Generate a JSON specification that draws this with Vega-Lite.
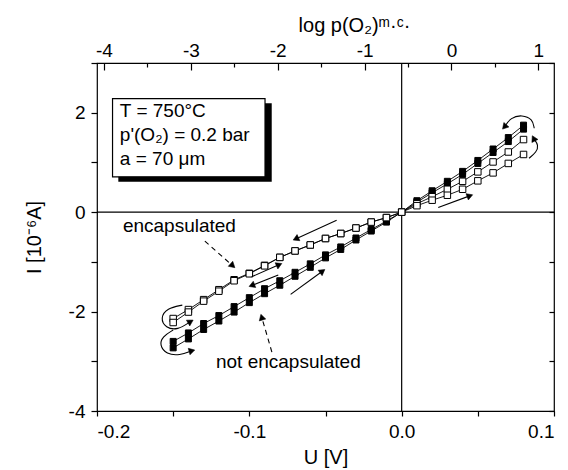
{
  "$schema": "https://vega.github.io/schema/vega-lite/v6.json",
  "width": 457,
  "height": 348,
  "autosize": {"type": "none"},
  "padding": {"left": 97, "top": 63, "right": 14, "bottom": 59},
  "config": {
    "view": {"stroke": "black", "strokeWidth": 1.2},
    "font": "Liberation Sans",
    "axis": {
      "labelFont": "Liberation Sans", "titleFont": "Liberation Sans",
      "labelFontSize": 19, "titleFontSize": 20, "titleFontWeight": "normal",
      "labelColor": "black", "titleColor": "black", "tickColor": "black",
      "tickWidth": 1.2, "domain": false, "grid": false
    }
  },
  "datasets": {
    "iv": [
      {"series": "NF1", "sample": "not encapsulated", "U": -0.15, "I": -2.60},
      {"series": "NF1", "sample": "not encapsulated", "U": -0.14, "I": -2.43},
      {"series": "NF1", "sample": "not encapsulated", "U": -0.13, "I": -2.24},
      {"series": "NF1", "sample": "not encapsulated", "U": -0.12, "I": -2.08},
      {"series": "NF1", "sample": "not encapsulated", "U": -0.11, "I": -1.90},
      {"series": "NF1", "sample": "not encapsulated", "U": -0.10, "I": -1.72},
      {"series": "NF1", "sample": "not encapsulated", "U": -0.09, "I": -1.54},
      {"series": "NF1", "sample": "not encapsulated", "U": -0.08, "I": -1.38},
      {"series": "NF1", "sample": "not encapsulated", "U": -0.07, "I": -1.21},
      {"series": "NF1", "sample": "not encapsulated", "U": -0.06, "I": -1.04},
      {"series": "NF1", "sample": "not encapsulated", "U": -0.05, "I": -0.86},
      {"series": "NF1", "sample": "not encapsulated", "U": -0.04, "I": -0.70},
      {"series": "NF1", "sample": "not encapsulated", "U": -0.03, "I": -0.52},
      {"series": "NF1", "sample": "not encapsulated", "U": -0.02, "I": -0.35},
      {"series": "NF1", "sample": "not encapsulated", "U": -0.01, "I": -0.18},
      {"series": "NF1", "sample": "not encapsulated", "U": 0.00, "I": 0.00},
      {"series": "NF1", "sample": "not encapsulated", "U": 0.01, "I": 0.23},
      {"series": "NF1", "sample": "not encapsulated", "U": 0.02, "I": 0.43},
      {"series": "NF1", "sample": "not encapsulated", "U": 0.03, "I": 0.62},
      {"series": "NF1", "sample": "not encapsulated", "U": 0.04, "I": 0.82},
      {"series": "NF1", "sample": "not encapsulated", "U": 0.05, "I": 1.04},
      {"series": "NF1", "sample": "not encapsulated", "U": 0.06, "I": 1.27},
      {"series": "NF1", "sample": "not encapsulated", "U": 0.07, "I": 1.50},
      {"series": "NF1", "sample": "not encapsulated", "U": 0.08, "I": 1.75},
      {"series": "NF2", "sample": "not encapsulated", "U": -0.15, "I": -2.73},
      {"series": "NF2", "sample": "not encapsulated", "U": -0.14, "I": -2.55},
      {"series": "NF2", "sample": "not encapsulated", "U": -0.13, "I": -2.36},
      {"series": "NF2", "sample": "not encapsulated", "U": -0.12, "I": -2.19},
      {"series": "NF2", "sample": "not encapsulated", "U": -0.11, "I": -2.01},
      {"series": "NF2", "sample": "not encapsulated", "U": -0.10, "I": -1.82},
      {"series": "NF2", "sample": "not encapsulated", "U": -0.09, "I": -1.64},
      {"series": "NF2", "sample": "not encapsulated", "U": -0.08, "I": -1.47},
      {"series": "NF2", "sample": "not encapsulated", "U": -0.07, "I": -1.29},
      {"series": "NF2", "sample": "not encapsulated", "U": -0.06, "I": -1.11},
      {"series": "NF2", "sample": "not encapsulated", "U": -0.05, "I": -0.92},
      {"series": "NF2", "sample": "not encapsulated", "U": -0.04, "I": -0.75},
      {"series": "NF2", "sample": "not encapsulated", "U": -0.03, "I": -0.56},
      {"series": "NF2", "sample": "not encapsulated", "U": -0.02, "I": -0.38},
      {"series": "NF2", "sample": "not encapsulated", "U": -0.01, "I": -0.20},
      {"series": "NF2", "sample": "not encapsulated", "U": 0.00, "I": 0.00},
      {"series": "NF2", "sample": "not encapsulated", "U": 0.01, "I": 0.20},
      {"series": "NF2", "sample": "not encapsulated", "U": 0.02, "I": 0.39},
      {"series": "NF2", "sample": "not encapsulated", "U": 0.03, "I": 0.57},
      {"series": "NF2", "sample": "not encapsulated", "U": 0.04, "I": 0.76},
      {"series": "NF2", "sample": "not encapsulated", "U": 0.05, "I": 0.98},
      {"series": "NF2", "sample": "not encapsulated", "U": 0.06, "I": 1.20},
      {"series": "NF2", "sample": "not encapsulated", "U": 0.07, "I": 1.42},
      {"series": "NF2", "sample": "not encapsulated", "U": 0.08, "I": 1.67},
      {"series": "E1", "sample": "encapsulated", "U": -0.15, "I": -2.14},
      {"series": "E1", "sample": "encapsulated", "U": -0.14, "I": -1.96},
      {"series": "E1", "sample": "encapsulated", "U": -0.13, "I": -1.76},
      {"series": "E1", "sample": "encapsulated", "U": -0.12, "I": -1.56},
      {"series": "E1", "sample": "encapsulated", "U": -0.11, "I": -1.36},
      {"series": "E1", "sample": "encapsulated", "U": -0.10, "I": -1.23},
      {"series": "E1", "sample": "encapsulated", "U": -0.09, "I": -1.07},
      {"series": "E1", "sample": "encapsulated", "U": -0.08, "I": -0.91},
      {"series": "E1", "sample": "encapsulated", "U": -0.07, "I": -0.78},
      {"series": "E1", "sample": "encapsulated", "U": -0.06, "I": -0.66},
      {"series": "E1", "sample": "encapsulated", "U": -0.05, "I": -0.53},
      {"series": "E1", "sample": "encapsulated", "U": -0.04, "I": -0.43},
      {"series": "E1", "sample": "encapsulated", "U": -0.03, "I": -0.32},
      {"series": "E1", "sample": "encapsulated", "U": -0.02, "I": -0.20},
      {"series": "E1", "sample": "encapsulated", "U": -0.01, "I": -0.11},
      {"series": "E1", "sample": "encapsulated", "U": 0.00, "I": 0.00},
      {"series": "E1", "sample": "encapsulated", "U": 0.01, "I": 0.17},
      {"series": "E1", "sample": "encapsulated", "U": 0.02, "I": 0.31},
      {"series": "E1", "sample": "encapsulated", "U": 0.03, "I": 0.46},
      {"series": "E1", "sample": "encapsulated", "U": 0.04, "I": 0.62},
      {"series": "E1", "sample": "encapsulated", "U": 0.05, "I": 0.81},
      {"series": "E1", "sample": "encapsulated", "U": 0.06, "I": 1.01},
      {"series": "E1", "sample": "encapsulated", "U": 0.07, "I": 1.21},
      {"series": "E1", "sample": "encapsulated", "U": 0.08, "I": 1.46},
      {"series": "E2", "sample": "encapsulated", "U": -0.15, "I": -2.22},
      {"series": "E2", "sample": "encapsulated", "U": -0.14, "I": -2.01},
      {"series": "E2", "sample": "encapsulated", "U": -0.13, "I": -1.79},
      {"series": "E2", "sample": "encapsulated", "U": -0.12, "I": -1.59},
      {"series": "E2", "sample": "encapsulated", "U": -0.11, "I": -1.38},
      {"series": "E2", "sample": "encapsulated", "U": -0.10, "I": -1.24},
      {"series": "E2", "sample": "encapsulated", "U": -0.09, "I": -1.08},
      {"series": "E2", "sample": "encapsulated", "U": -0.08, "I": -0.91},
      {"series": "E2", "sample": "encapsulated", "U": -0.07, "I": -0.78},
      {"series": "E2", "sample": "encapsulated", "U": -0.06, "I": -0.66},
      {"series": "E2", "sample": "encapsulated", "U": -0.05, "I": -0.53},
      {"series": "E2", "sample": "encapsulated", "U": -0.04, "I": -0.43},
      {"series": "E2", "sample": "encapsulated", "U": -0.03, "I": -0.32},
      {"series": "E2", "sample": "encapsulated", "U": -0.02, "I": -0.20},
      {"series": "E2", "sample": "encapsulated", "U": -0.01, "I": -0.11},
      {"series": "E2", "sample": "encapsulated", "U": 0.00, "I": 0.00},
      {"series": "E2", "sample": "encapsulated", "U": 0.01, "I": 0.13},
      {"series": "E2", "sample": "encapsulated", "U": 0.02, "I": 0.24},
      {"series": "E2", "sample": "encapsulated", "U": 0.03, "I": 0.34},
      {"series": "E2", "sample": "encapsulated", "U": 0.04, "I": 0.46},
      {"series": "E2", "sample": "encapsulated", "U": 0.05, "I": 0.63},
      {"series": "E2", "sample": "encapsulated", "U": 0.06, "I": 0.79},
      {"series": "E2", "sample": "encapsulated", "U": 0.07, "I": 0.98},
      {"series": "E2", "sample": "encapsulated", "U": 0.08, "I": 1.16}
    ],
    "solidArrows": [
      {"id": "A1", "o": 0, "U": -0.0427, "I": -0.161},
      {"id": "A1", "o": 1, "U": -0.0689, "I": -0.529},
      {"id": "A2", "o": 0, "U": -0.0985, "I": -1.300},
      {"id": "A2", "o": 1, "U": -0.0810, "I": -1.065},
      {"id": "A3", "o": 0, "U": -0.0810, "I": -1.266},
      {"id": "A3", "o": 1, "U": -0.0978, "I": -1.467},
      {"id": "A4", "o": 0, "U": -0.0729, "I": -1.654},
      {"id": "A4", "o": 1, "U": -0.0525, "I": -1.200},
      {"id": "A5", "o": 0, "U": 0.0240, "I": 0.094},
      {"id": "A5", "o": 1, "U": 0.0442, "I": 0.322}
    ],
    "arcs": [
      {"id": "L1", "o": 0, "U": -0.1440, "I": -1.870},
      {"id": "L1", "o": 1, "U": -0.1540, "I": -1.930},
      {"id": "L1", "o": 2, "U": -0.1585, "I": -2.131},
      {"id": "L1", "o": 3, "U": -0.1550, "I": -2.330},
      {"id": "L1", "o": 4, "U": -0.1469, "I": -2.372},
      {"id": "L1", "o": 5, "U": -0.1391, "I": -2.211},
      {"id": "L2", "o": 0, "U": -0.1500, "I": -2.372},
      {"id": "L2", "o": 1, "U": -0.1570, "I": -2.500},
      {"id": "L2", "o": 2, "U": -0.1590, "I": -2.673},
      {"id": "L2", "o": 3, "U": -0.1545, "I": -2.860},
      {"id": "L2", "o": 4, "U": -0.1455, "I": -2.880},
      {"id": "L2", "o": 5, "U": -0.1383, "I": -2.794},
      {"id": "R1", "o": 0, "U": 0.0870, "I": 1.688},
      {"id": "R1", "o": 1, "U": 0.0860, "I": 1.870},
      {"id": "R1", "o": 2, "U": 0.0790, "I": 1.960},
      {"id": "R1", "o": 3, "U": 0.0715, "I": 1.900},
      {"id": "R1", "o": 4, "U": 0.0679, "I": 1.729},
      {"id": "R2", "o": 0, "U": 0.0836, "I": 1.085},
      {"id": "R2", "o": 1, "U": 0.0885, "I": 1.206},
      {"id": "R2", "o": 2, "U": 0.0899, "I": 1.347},
      {"id": "R2", "o": 3, "U": 0.0869, "I": 1.467}
    ],
    "dashedArrows": [
      {"id": "D1", "o": 0, "U": -0.1292, "I": -0.583},
      {"id": "D1", "o": 1, "U": -0.1114, "I": -1.065},
      {"id": "D2", "o": 0, "U": -0.0852, "I": -2.814},
      {"id": "D2", "o": 1, "U": -0.0917, "I": -2.131}
    ],
    "heads": [
      {"id": "D1", "U": -0.1114, "I": -1.065, "dir": 131.6},
      {"id": "D2", "U": -0.0917, "I": -2.131, "dir": -16.4},
      {"id": "A1", "U": -0.0689, "I": -0.529, "dir": -114.6},
      {"id": "A2", "U": -0.0810, "I": -1.065, "dir": 66.3},
      {"id": "A3", "U": -0.0978, "I": -1.467, "dir": -111.3},
      {"id": "A4", "U": -0.0525, "I": -1.200, "dir": 53.9},
      {"id": "A5", "U": 0.0442, "I": 0.322, "dir": 69.8},
      {"id": "L1", "U": -0.1391, "I": -2.211, "dir": 59.7},
      {"id": "L2", "U": -0.1383, "I": -2.794, "dir": 74.7},
      {"id": "R1", "U": 0.0679, "I": 1.729, "dir": -138.8},
      {"id": "R2", "U": 0.0869, "I": 1.467, "dir": -26.6}
    ],
    "labels": [
      {"U": -0.1830, "I": -0.28, "t": "encapsulated"},
      {"U": -0.1219, "I": -3.015, "t": "not encapsulated"}
    ],
    "boxText": [
      {"U": -0.1850, "I": 2.03, "t": "T = 750°C"},
      {"U": -0.1850, "I": 1.55, "t": "p'(O₂) = 0.2 bar"},
      {"U": -0.1850, "I": 1.065, "t": "a = 70 μm"}
    ]
  },
  "layer": [
    {
      "data": {"values": [{"I": 0}]},
      "mark": {"type": "rule", "color": "black", "strokeWidth": 1.2},
      "encoding": {
        "y": {"field": "I", "type": "quantitative",
          "scale": {"domain": [-4, 3], "nice": false, "zero": false},
          "axis": {"orient": "left", "values": [-4, -3, -2, -1, 0, 1, 2, 3],
            "labelExpr": "datum.value % 2 == 0 ? toString(datum.value) : ''",
            "tickSize": 6, "labelPadding": 6, "title": "I [10⁻⁶A]", "titlePadding": 24}}
      }
    },
    {
      "data": {"values": [{"I": 0}]},
      "mark": {"type": "rule", "opacity": 0},
      "encoding": {
        "y": {"field": "I", "type": "quantitative",
          "axis": {"orient": "right", "values": [-4, -3, -2, -1, 0, 1, 2, 3],
            "labels": false, "tickSize": -5, "title": null}}
      }
    },
    {
      "data": {"values": [{"U": 0}]},
      "mark": {"type": "rule", "color": "black", "strokeWidth": 1.2},
      "encoding": {
        "x": {"field": "U", "type": "quantitative",
          "scale": {"domain": [-0.2, 0.1], "nice": false, "zero": false},
          "axis": {"orient": "bottom", "values": [-0.2, -0.15, -0.1, -0.05, 0, 0.05, 0.1],
            "labelExpr": "abs(datum.value*10 - round(datum.value*10)) < 0.001 ? replace(format(datum.value, '.1f'), '−', '-') : ''",
            "tickSize": 5, "labelPadding": 6, "title": "U [V]", "titlePadding": 6}}
      }
    },
    {
      "data": {"values": [{"x1": -0.1860, "x2": -0.0853, "y1": 2.19, "y2": 0.61}]},
      "mark": {"type": "rect", "color": "black"},
      "encoding": {
        "x": {"field": "x1", "type": "quantitative", "axis": null, "scale": {"domain": [-0.2, 0.1], "nice": false, "zero": false}},
        "x2": {"field": "x2"},
        "y": {"field": "y1", "type": "quantitative", "axis": null},
        "y2": {"field": "y2"}
      }
    },
    {
      "data": {"values": [{"x1": -0.1898, "x2": -0.0897, "y1": 2.285, "y2": 0.71}]},
      "mark": {"type": "rect", "fill": "white", "stroke": "black", "strokeWidth": 1.2},
      "encoding": {
        "x": {"field": "x1", "type": "quantitative", "axis": null, "scale": {"domain": [-0.2, 0.1], "nice": false, "zero": false}},
        "x2": {"field": "x2"},
        "y": {"field": "y1", "type": "quantitative", "axis": null},
        "y2": {"field": "y2"}
      }
    },
    {
      "data": {"name": "boxText"},
      "mark": {"type": "text", "align": "left", "baseline": "middle", "fontSize": 19, "font": "Liberation Sans", "color": "black"},
      "encoding": {
        "x": {"field": "U", "type": "quantitative", "axis": null, "scale": {"domain": [-0.2, 0.1], "nice": false, "zero": false}},
        "y": {"field": "I", "type": "quantitative", "axis": null},
        "text": {"field": "t"}
      }
    },
    {
      "data": {"name": "labels"},
      "mark": {"type": "text", "align": "left", "baseline": "middle", "fontSize": 19, "font": "Liberation Sans", "color": "black"},
      "encoding": {
        "x": {"field": "U", "type": "quantitative", "axis": null, "scale": {"domain": [-0.2, 0.1], "nice": false, "zero": false}},
        "y": {"field": "I", "type": "quantitative", "axis": null},
        "text": {"field": "t"}
      }
    },
    {
      "data": {"name": "iv"},
      "mark": {"type": "line", "color": "black", "strokeWidth": 0.9},
      "encoding": {
        "x": {"field": "U", "type": "quantitative", "axis": null, "scale": {"domain": [-0.2, 0.1], "nice": false, "zero": false}},
        "y": {"field": "I", "type": "quantitative", "axis": null},
        "detail": {"field": "series"}
      }
    },
    {
      "data": {"name": "iv"},
      "mark": {"type": "point", "shape": "square", "stroke": "black", "strokeWidth": 1, "opacity": 1},
      "encoding": {
        "x": {"field": "U", "type": "quantitative", "axis": null, "scale": {"domain": [-0.2, 0.1], "nice": false, "zero": false}},
        "y": {"field": "I", "type": "quantitative", "axis": null},
        "fill": {"field": "sample", "type": "nominal", "scale": {"domain": ["encapsulated", "not encapsulated"], "range": ["white", "black"]}, "legend": null},
        "size": {"field": "sample", "type": "nominal", "scale": {"domain": ["encapsulated", "not encapsulated"], "range": [42, 36]}, "legend": null}
      }
    },
    {
      "data": {"name": "solidArrows"},
      "mark": {"type": "line", "color": "black", "strokeWidth": 1.1},
      "encoding": {
        "x": {"field": "U", "type": "quantitative", "axis": null, "scale": {"domain": [-0.2, 0.1], "nice": false, "zero": false}},
        "y": {"field": "I", "type": "quantitative", "axis": null},
        "detail": {"field": "id"},
        "order": {"field": "o"}
      }
    },
    {
      "data": {"name": "arcs"},
      "mark": {"type": "line", "color": "black", "strokeWidth": 1.1, "interpolate": "basis"},
      "encoding": {
        "x": {"field": "U", "type": "quantitative", "axis": null, "scale": {"domain": [-0.2, 0.1], "nice": false, "zero": false}},
        "y": {"field": "I", "type": "quantitative", "axis": null},
        "detail": {"field": "id"},
        "order": {"field": "o"}
      }
    },
    {
      "data": {"name": "dashedArrows"},
      "mark": {"type": "line", "color": "black", "strokeWidth": 1.1, "strokeDash": [5, 4]},
      "encoding": {
        "x": {"field": "U", "type": "quantitative", "axis": null, "scale": {"domain": [-0.2, 0.1], "nice": false, "zero": false}},
        "y": {"field": "I", "type": "quantitative", "axis": null},
        "detail": {"field": "id"},
        "order": {"field": "o"}
      }
    },
    {
      "data": {"name": "heads"},
      "mark": {"type": "point", "shape": "triangle", "filled": true, "fill": "black", "stroke": "black", "strokeWidth": 0.5, "size": 45, "opacity": 1},
      "encoding": {
        "x": {"field": "U", "type": "quantitative", "axis": null, "scale": {"domain": [-0.2, 0.1], "nice": false, "zero": false}},
        "y": {"field": "I", "type": "quantitative", "axis": null},
        "angle": {"field": "dir", "type": "quantitative", "scale": null}
      }
    },
    {
      "data": {"values": [{"lp": -4.08}, {"lp": 1.18}]},
      "mark": {"type": "point", "opacity": 0},
      "encoding": {
        "x": {"field": "lp", "type": "quantitative",
          "scale": {"domain": [-4.08, 1.18], "nice": false, "zero": false},
          "axis": {"orient": "top", "values": [-4, -3, -2, -1, 0, 1],
            "labelExpr": "toString(datum.value)",
            "tickSize": -7, "labelPadding": 10, "title": "log p(O₂)ᵐ·ᶜ·", "titlePadding": 6, "titleX": 257}}
      }
    },
    {
      "data": {"values": [{"lp": -4.08}, {"lp": 1.18}]},
      "mark": {"type": "point", "opacity": 0},
      "encoding": {
        "x": {"field": "lp", "type": "quantitative",
          "scale": {"domain": [-4.08, 1.18], "nice": false, "zero": false},
          "axis": {"orient": "top", "values": [-3.5, -2.5, -1.5, -0.5, 0.5],
            "labels": false, "tickSize": -4, "title": null}}
      }
    }
  ],
  "resolve": {"scale": {"x": "independent"}, "axis": {"y": "independent"}}
}
